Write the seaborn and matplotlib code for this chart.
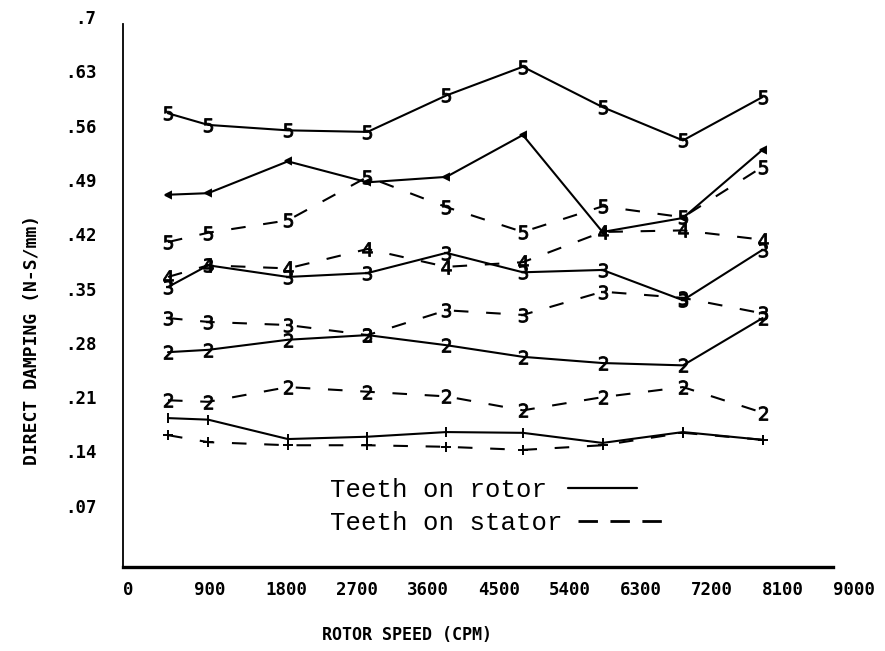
import pandas as pd
import numpy as np
import matplotlib
matplotlib.use("Agg")
import matplotlib.pyplot as plt
from matplotlib.lines import Line2D
import seaborn as sns

# rotor speed of each test point (cpm)
speed = [570, 1080, 2090, 3100, 4100, 5070, 6080, 7100, 8110]

# direct damping (N-s/mm), teeth on rotor -> solid lines
rotor_1 = [0.192, 0.190, 0.165, 0.168, 0.174, 0.173, 0.160, 0.174, 0.164]
rotor_2 = [0.277, 0.280, 0.293, 0.299, 0.286, 0.271, 0.263, 0.260, 0.321]
rotor_3 = [0.361, 0.389, 0.374, 0.379, 0.405, 0.380, 0.383, 0.344, 0.409]
rotor_4 = [0.480, 0.482, 0.523, 0.496, 0.503, 0.557, 0.432, 0.450, 0.538]
rotor_5 = [0.585, 0.570, 0.563, 0.561, 0.608, 0.645, 0.593, 0.550, 0.606]

# teeth on stator -> dashed lines
stator_1 = [0.170, 0.161, 0.157, 0.157, 0.155, 0.151, 0.157, 0.173, 0.164]
stator_2 = [0.215, 0.213, 0.232, 0.226, 0.220, 0.202, 0.219, 0.232, 0.199]
stator_3 = [0.321, 0.316, 0.312, 0.299, 0.331, 0.325, 0.355, 0.347, 0.327]
stator_4 = [0.374, 0.389, 0.385, 0.410, 0.387, 0.393, 0.432, 0.434, 0.422]
stator_5 = [0.419, 0.431, 0.447, 0.503, 0.464, 0.432, 0.465, 0.451, 0.516]

cases = ["1", "2", "3", "4", "5"]
x_ticks = [0, 900, 1800, 2700, 3600, 4500, 5400, 6300, 7200, 8100, 9000]
y_ticks = [0.07, 0.14, 0.21, 0.28, 0.35, 0.42, 0.49, 0.56, 0.63, 0.7]
y_ticklabels = [".07", ".14", ".21", ".28", ".35", ".42", ".49", ".56", ".63", ".7"]

rotor = [rotor_1, rotor_2, rotor_3, rotor_4, rotor_5]
stator = [stator_1, stator_2, stator_3, stator_4, stator_5]

rows = []
for c, r, s in zip(cases, rotor, stator):
    rows += [(x, v, c, "rotor") for x, v in zip(speed, r)]
    rows += [(x, v, c, "stator") for x, v in zip(speed, s)]
df = pd.DataFrame(rows, columns=["speed", "damping", "case", "teeth"])

# plotter symbols used on each curve
rotor_marks = {"1": "|", "2": "$2$", "3": "$3$", "4": "<", "5": "$5$"}
stator_marks = {"1": "+", "2": "$2$", "3": "$3$", "4": "$4$", "5": "$5$"}

sns.set_theme(style="white")
plt.rcParams["font.family"] = ["DejaVu Sans Mono", "DejaVu Sans"]

fig, ax = plt.subplots(figsize=(8.85, 6.51), dpi=100)
fig.subplots_adjust(left=0.139, right=0.941, bottom=0.129, top=0.963)

for (case, teeth), d in df.groupby(["case", "teeth"]):
    if teeth == "rotor":
        mk = rotor_marks[case]
        ls = "-"
    else:
        mk = stator_marks[case]
        ls = (0, (7, 8.5))
    ms = 10 if mk.startswith("$") else 7
    if mk == "<":
        ms = 5
    sns.lineplot(data=d, x="speed", y="damping", ax=ax, color="black",
                 linewidth=1.5, linestyle=ls,
                 marker=mk, markersize=ms, markeredgewidth=0.6 if mk.startswith("$") else 1.4,
                 markeredgecolor="black", markerfacecolor="black", sort=False)

ax.set_xlim(0, 9000)
ax.set_ylim(0, 0.7)
ax.set_xticks(x_ticks)
ax.set_xticklabels([str(t) for t in x_ticks], ha="left", fontweight="bold")
ax.set_yticks(y_ticks)
ax.set_yticklabels(y_ticklabels, va="baseline", fontweight="bold")
ax.tick_params(axis="both", direction="inout", length=6, width=1.2,
               colors="black", labelsize=12.5)
ax.tick_params(axis="y", pad=16)
ax.tick_params(axis="x", pad=7)

ax.set_xlabel("ROTOR SPEED (CPM)", fontsize=12, color="black", fontweight="bold")
ax.set_ylabel("DIRECT DAMPING (N-S/mm)", fontsize=13, color="black", fontweight="bold")
ax.xaxis.set_label_coords(0.40, -0.109)
ax.yaxis.set_label_coords(-0.116, 0.418)

sns.despine(ax=ax)
ax.spines["bottom"].set_linewidth(2.4)
ax.spines["left"].set_linewidth(1.3)
for s in ["bottom", "left"]:
    ax.spines[s].set_color("black")

# key written after the text, like the original plotter
leg_font = {"family": "Liberation Mono", "size": 18.5}
h_rotor = Line2D([], [], color="black", lw=1.6)
h_stator = Line2D([], [], color="black", lw=2, linestyle=(0, (7, 4.5)))
leg1 = ax.legend([h_rotor], ["Teeth on rotor"], loc="upper left",
                 bbox_to_anchor=(330 / 885, 1 - 478 / 651), bbox_transform=fig.transFigure,
                 frameon=False, markerfirst=False, prop=leg_font, labelcolor="black",
                 handlelength=2.7, handletextpad=0.8, borderpad=0, borderaxespad=0)
ax.add_artist(leg1)
ax.legend([h_stator], ["Teeth on stator"], loc="upper left",
          bbox_to_anchor=(330 / 885, 1 - 511 / 651), bbox_transform=fig.transFigure,
          frameon=False, markerfirst=False, prop=leg_font, labelcolor="black",
          handlelength=3.6, handletextpad=0.6, borderpad=0, borderaxespad=0)

fig.savefig("out.png", dpi=100)
